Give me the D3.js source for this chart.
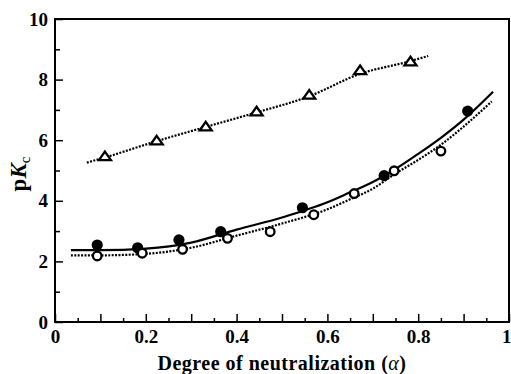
<!DOCTYPE html>
<html>
<head>
<meta charset="utf-8">
<script src="https://cdn.jsdelivr.net/npm/d3@7"></script>
<style>
  html, body { margin: 0; padding: 0; background: #fff; }
  svg { display: block; }
</style>
</head>
<body>
<svg id="chart" width="511" height="374"></svg>
<script>
// Measured pKc values against degree of neutralization
const filledAlpha = [0.093, 0.182, 0.273, 0.365, 0.545, 0.725, 0.909];
const filledPK    = [2.54, 2.45, 2.71, 2.98, 3.77, 4.83, 6.96];

const openAlpha = [0.093, 0.192, 0.281, 0.380, 0.474, 0.570, 0.659, 0.747, 0.850];
const openPK    = [2.18, 2.27, 2.40, 2.76, 2.98, 3.54, 4.24, 4.99, 5.64];

const triAlpha = [0.110, 0.224, 0.332, 0.444, 0.560, 0.672, 0.783];
const triPK    = [5.46, 5.98, 6.44, 6.94, 7.49, 8.30, 8.59];

// Fitted curves
const solidFitAlpha = [0.035, 0.10, 0.20, 0.30, 0.40, 0.50, 0.60, 0.65, 0.70, 0.75, 0.80, 0.85, 0.90, 0.965];
const solidFitPK    = [2.37, 2.37, 2.42, 2.62, 3.05, 3.45, 3.95, 4.28, 4.62, 5.05, 5.55, 6.08, 6.68, 7.60];

const dotFitAlpha = [0.035, 0.10, 0.20, 0.30, 0.40, 0.50, 0.60, 0.65, 0.70, 0.75, 0.80, 0.85, 0.90, 0.962];
const dotFitPK    = [2.20, 2.20, 2.25, 2.45, 2.85, 3.25, 3.72, 4.05, 4.40, 4.90, 5.35, 5.85, 6.45, 7.28];

const triFitAlpha = [0.07, 0.11, 0.22, 0.33, 0.44, 0.56, 0.67, 0.78, 0.822];
const triFitPK    = [5.26, 5.43, 5.95, 6.43, 6.90, 7.45, 8.18, 8.60, 8.78];

// Axis ticks
const xMinorTicks = d3.range(0, 21).map(i => i * 0.05);
const xLabelTicks = [0, 0.2, 0.4, 0.6, 0.8, 1];
const yMinorTicks = d3.range(0, 11);
const yLabelTicks = [0, 2, 4, 6, 8, 10];

const SERIF = '"Liberation Serif", "Times New Roman", Times, "DejaVu Serif", serif';

const svg = d3.select("#chart");
const plot = { left: 55, top: 19, right: 509, bottom: 322 };

const x = d3.scaleLinear().domain([0, 1]).range([plot.left, plot.right]);
const y = d3.scaleLinear().domain([0, 10]).range([plot.bottom, plot.top]);

const near = (a, b) => Math.abs(a - b) < 1e-6;

// X axis: ticks every 0.05 pointing inward, taller every 0.1
const xAxis = d3.axisBottom(x)
  .tickValues(xMinorTicks)
  .tickSize(-4)
  .tickPadding(8)
  .tickFormat(d => xLabelTicks.some(v => near(v, d)) ? (near(d, 0) || near(d, 1) ? String(Math.round(d)) : d.toFixed(1)) : "");
const gx = svg.append("g").attr("transform", `translate(0,${plot.bottom})`).call(xAxis);
gx.attr("font-family", null).attr("font-size", null);
gx.select(".domain").remove();
gx.selectAll(".tick line")
  .attr("stroke", "#000").attr("stroke-width", 1.5)
  .attr("y2", d => near(Math.round(d * 10) / 10, d) ? -8 : -4);
gx.selectAll(".tick text")
  .attr("font-family", SERIF).attr("font-weight", "bold").attr("font-size", 19).attr("fill", "#000");
// keep the last label inside the canvas
gx.selectAll(".tick text").filter(d => near(d, 1)).attr("text-anchor", "end").attr("dx", 2);

// Y axis: ticks every 1 pointing inward, taller at labelled values
const yAxis = d3.axisLeft(y)
  .tickValues(yMinorTicks)
  .tickSize(-4)
  .tickPadding(7)
  .tickFormat(d => yLabelTicks.includes(d) ? String(d) : "");
const gy = svg.append("g").attr("transform", `translate(${plot.left},0)`).call(yAxis);
gy.attr("font-family", null).attr("font-size", null);
gy.select(".domain").remove();
gy.selectAll(".tick line")
  .attr("stroke", "#000").attr("stroke-width", 1.5)
  .attr("x2", d => d % 2 === 0 ? 8 : 5);
gy.selectAll(".tick text")
  .attr("font-family", SERIF).attr("font-weight", "bold").attr("font-size", 19).attr("fill", "#000");

// Frame
svg.append("rect")
  .attr("x", plot.left).attr("y", plot.top)
  .attr("width", plot.right - plot.left).attr("height", plot.bottom - plot.top)
  .attr("fill", "none").attr("stroke", "#000").attr("stroke-width", 2);

// Curves
const line = d3.line().x(d => x(d[0])).y(d => y(d[1])).curve(d3.curveMonotoneX);
const zip = (a, b) => a.map((v, i) => [v, b[i]]);

svg.append("path").datum(zip(triFitAlpha, triFitPK))
  .attr("d", line).attr("fill", "none").attr("stroke", "#000")
  .attr("stroke-width", 2.2).attr("stroke-dasharray", "2,1.4");

svg.append("path").datum(zip(dotFitAlpha, dotFitPK))
  .attr("d", line).attr("fill", "none").attr("stroke", "#000")
  .attr("stroke-width", 2.2).attr("stroke-dasharray", "2,1.4");

svg.append("path").datum(zip(solidFitAlpha, solidFitPK))
  .attr("d", line).attr("fill", "none").attr("stroke", "#000")
  .attr("stroke-width", 2.2);

// Markers
svg.append("g").selectAll("circle").data(zip(filledAlpha, filledPK)).join("circle")
  .attr("cx", d => x(d[0])).attr("cy", d => y(d[1])).attr("r", 5.6)
  .attr("fill", "#000");

svg.append("g").selectAll("circle").data(zip(openAlpha, openPK)).join("circle")
  .attr("cx", d => x(d[0])).attr("cy", d => y(d[1])).attr("r", 4.3)
  .attr("fill", "#fff").attr("stroke", "#000").attr("stroke-width", 2.3);

const triPath = "M0,-5L6,3.6L-6,3.6Z";
svg.append("g").selectAll("path").data(zip(triAlpha, triPK)).join("path")
  .attr("d", triPath)
  .attr("transform", d => `translate(${x(d[0])},${y(d[1])})`)
  .attr("fill", "#fff").attr("stroke", "#000").attr("stroke-width", 2.3)
  .attr("stroke-linejoin", "miter");

// Axis titles
const xt = svg.append("text")
  .attr("x", (plot.left + plot.right) / 2).attr("y", 370)
  .attr("text-anchor", "middle")
  .attr("font-family", SERIF).attr("font-weight", "bold").attr("font-size", 20)
  .attr("letter-spacing", 0.5).attr("fill", "#000");
xt.append("tspan").text("Degree of neutralization (");
xt.append("tspan").text("α").attr("font-style", "italic").attr("font-weight", "normal");
xt.append("tspan").text(")");

const yt = svg.append("text")
  .attr("transform", `translate(26,174) rotate(-90)`)
  .attr("text-anchor", "middle")
  .attr("font-family", SERIF).attr("font-weight", "bold").attr("font-size", 23).attr("fill", "#000");
yt.append("tspan").text("p");
yt.append("tspan").text("K").attr("font-style", "italic");
yt.append("tspan").text("c").attr("dy", 4).attr("font-size", 15).attr("font-weight", "normal");
</script>
</body>
</html>
